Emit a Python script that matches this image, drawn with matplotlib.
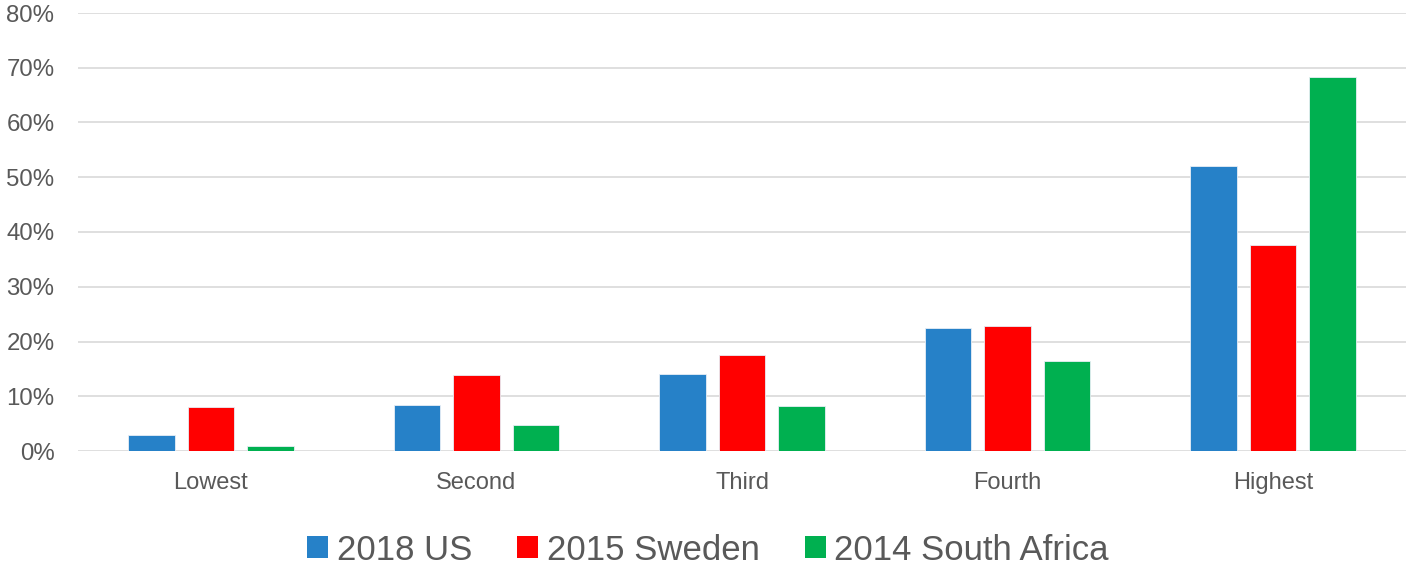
import matplotlib
matplotlib.use("Agg")
import matplotlib.pyplot as plt
import numpy as np
from matplotlib.ticker import FuncFormatter
from matplotlib.patches import Patch

categories = ["Lowest", "Second", "Third", "Fourth", "Highest"]
series_names = ["2018 US", "2015 Sweden", "2014 South Africa"]
us = [3.0, 8.4, 14.1, 22.5, 52.1]
sweden = [8.1, 13.8, 17.6, 22.8, 37.7]
south_africa = [0.85, 4.8, 8.2, 16.4, 68.4]
colors = ["#2681C8", "#FF0000", "#00B050"]
yticks = [0, 10, 20, 30, 40, 50, 60, 70, 80]

plt.rcParams['font.family'] = ['Liberation Sans', 'DejaVu Sans']
gray = "#595959"

fig = plt.figure(figsize=(14.06, 5.66), dpi=100)
ax = fig.add_axes([78/1406, 115/566, 1 - 78/1406, (451-13)/566])

x = np.arange(len(categories))
w = 0.175
step = 0.224
for i, (vals, c) in enumerate(zip([us, sweden, south_africa], colors)):
    ax.bar(x + (i - 1) * step, vals, width=w, color=c, edgecolor="#e8eef5",
           linewidth=0.6, zorder=3)

ax.set_xlim(-0.5, len(categories) - 0.5)
ax.set_ylim(0, 80)
ax.set_yticks(yticks)
ax.yaxis.set_major_formatter(FuncFormatter(lambda v, p: f"{v:.0f}%"))
ax.set_xticks(x)
ax.set_xticklabels(categories)
ax.grid(axis="y", color="#d9d9d9", linewidth=1.2, zorder=0)
for s in ax.spines.values():
    s.set_visible(False)
ax.tick_params(axis="y", length=0, pad=17, labelsize=17.3, labelcolor=gray)
ax.tick_params(axis="x", length=0, pad=15, labelsize=17, labelcolor=gray)

handles = [Patch(facecolor=c, edgecolor="none") for c in colors]
fig.legend(handles, series_names, loc="center", bbox_to_anchor=(708/1406, 1 - 550/566),
           ncol=3, frameon=False, fontsize=25, labelcolor=gray,
           handlelength=0.6, handleheight=0.6, handletextpad=0.25, columnspacing=1.3)

fig.savefig("out.png", dpi=100, facecolor="white")
